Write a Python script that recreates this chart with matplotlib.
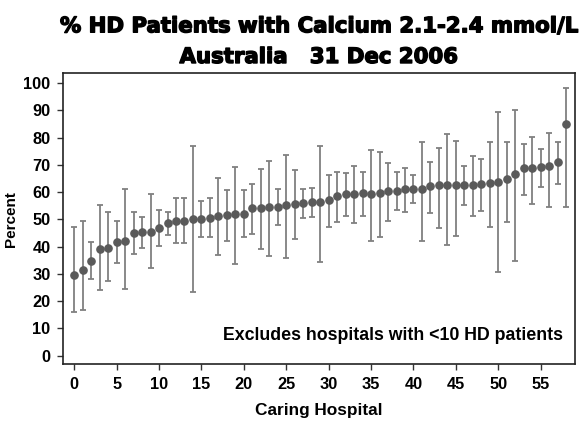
import matplotlib
matplotlib.use("Agg")
import matplotlib.pyplot as plt
import matplotlib.patheffects as pe
import numpy as np

hospital = list(range(59))
percent = [29.7, 31.6, 34.6, 39.2, 39.4, 41.7, 42.1, 45.0, 45.3, 45.5,
           46.9, 48.6, 49.4, 49.4, 50.0, 50.0, 50.6, 51.3, 51.6, 52.0,
           52.1, 54.1, 54.3, 54.5, 54.7, 55.3, 55.7, 56.0, 56.3, 56.5,
           57.1, 58.6, 59.3, 59.5, 59.6, 59.5, 59.6, 60.3, 60.4, 61.2,
           61.3, 61.3, 62.3, 62.5, 62.6, 62.6, 62.6, 62.6, 62.9, 63.4,
           63.9, 64.7, 66.7, 68.8, 69.0, 69.1, 69.5, 71.1, 84.9]
upper = [47.1, 49.4, 41.6, 55.4, 52.8, 49.5, 61.2, 52.8, 51.0, 59.5,
         53.6, 52.6, 57.8, 57.8, 77.1, 56.9, 57.8, 65.3, 60.9, 69.4,
         60.8, 63.1, 68.6, 71.3, 61.1, 73.5, 68.0, 61.2, 61.7, 76.8,
         66.4, 67.4, 67.2, 69.6, 67.5, 75.4, 74.6, 70.6, 67.3, 68.8,
         66.3, 78.4, 71.2, 76.3, 81.5, 78.9, 69.7, 73.2, 72.2, 78.3,
         89.3, 78.5, 90.2, 77.6, 80.3, 75.7, 81.8, 78.3, 98.2]
lower = [15.9, 16.9, 28.0, 24.2, 27.3, 34.0, 24.5, 37.3, 39.6, 32.1,
         40.4, 44.4, 41.4, 41.4, 23.3, 43.6, 43.7, 36.8, 42.0, 33.8,
         43.4, 44.5, 39.3, 36.7, 48.1, 35.7, 42.7, 50.6, 50.9, 34.5,
         47.1, 49.0, 51.2, 48.7, 51.3, 42.1, 43.4, 49.3, 53.5, 52.8,
         56.0, 42.2, 52.5, 46.7, 40.7, 43.8, 55.3, 51.4, 53.0, 47.2,
         30.8, 49.0, 34.9, 59.0, 55.8, 61.9, 54.6, 62.9, 54.7]

xticks = list(range(0, 56, 5))
yticks = list(range(0, 101, 10))

FONT = "Liberation Sans"

fig = plt.figure(figsize=(5.82, 4.24), dpi=100)
ax = fig.add_axes([0.1082, 0.1408, 0.8798, 0.6863])

p = np.array(percent)
yerr = np.vstack([p - np.array(lower), np.array(upper) - p])
ax.errorbar(hospital, percent, yerr=yerr, fmt="o", color="#5a5a5a",
            ecolor="#808080", elinewidth=1.3, capsize=2.2, capthick=1.3,
            markersize=5.2, zorder=3)

ax.set_xlim(-1.33, 59.05)
ax.set_ylim(-3.16, 103.6)
ax.set_xticks(xticks)
ax.set_yticks(yticks)
ax.tick_params(axis="both", direction="out", length=4, width=1, color="#333333",
               labelsize=11.8, pad=5)
for lab in ax.get_xticklabels() + ax.get_yticklabels():
    lab.set_fontfamily(FONT)
    lab.set_fontweight("bold")
for s in ax.spines.values():
    s.set_linewidth(1.2)
    s.set_color("#222222")

ax.set_xlabel("Caring Hospital", fontfamily=FONT, fontweight="bold", fontsize=12.4, labelpad=8)
ax.set_ylabel("Percent", fontfamily=FONT, fontweight="bold", fontsize=11, labelpad=4)

ax.text(0.9766, 0.0835, "Excludes hospitals with <10 HD patients", transform=ax.transAxes,
        ha="right", va="baseline", fontfamily=FONT, fontweight="bold", fontsize=12.8)

heavy = [pe.withStroke(linewidth=1.0, foreground="black")]
fig.text(0.5475, 0.9238, "% HD Patients with Calcium 2.1-2.4 mmol/L", ha="center", va="baseline",
         fontfamily="DejaVu Sans", fontweight="heavy", fontsize=15.3, path_effects=heavy)
fig.text(0.5475, 0.8514, "Australia   31 Dec 2006", ha="center", va="baseline",
         fontfamily="DejaVu Sans", fontweight="heavy", fontsize=15.3, path_effects=heavy)

fig.savefig("out.png", dpi=100)
